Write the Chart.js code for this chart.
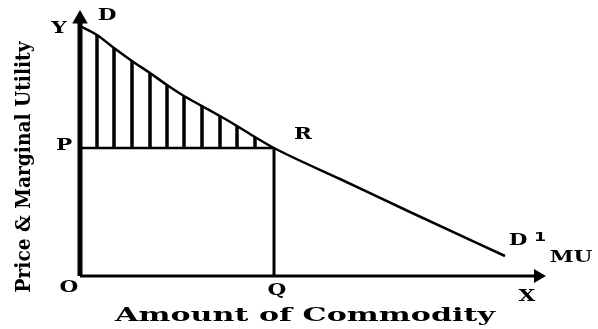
<!DOCTYPE html>
<html>
<head>
<meta charset="utf-8">
<script src="https://cdn.jsdelivr.net/npm/chart.js@4"></script>
<style>
  html, body { margin: 0; padding: 0; background: #fff; }
  #wrap { width: 598px; height: 329px; }
</style>
</head>
<body>
<div id="wrap"><canvas id="chart1"></canvas></div>
<script>
// demand / marginal utility curve D -> D1 (quantity, price)
const curveX = [0, 17, 34, 52, 70, 87, 104, 122, 140, 157, 175, 194, 260, 330, 425];
const curveY = [250, 241, 228, 215, 203, 191, 180, 170, 160, 150, 139, 128, 97, 64, 20];

// market price P and quantity bought Q (point R)
const priceP = 128;
const quantityQ = 194;

// hatched consumer surplus: verticals at these curve samples
const hatchIdx = [1, 2, 3, 4, 5, 6, 7, 8, 9, 10];

const xMax = 462;
const yMax = 261;

const FONT = "'DejaVu Serif', serif";

const curve = curveX.map((x, i) => ({ x, y: curveY[i] }));

const hatch = [];
hatchIdx.forEach(i => {
  hatch.push({ x: curveX[i], y: priceP });
  hatch.push({ x: curveX[i], y: curveY[i] });
  hatch.push({ x: curveX[i], y: null });
});

// labels drawn on top, anchored to data points
const labelsPlugin = {
  id: "labels",
  afterDraw(chart) {
    const { ctx, scales: { x, y } } = chart;
    const px = v => x.getPixelForValue(v);
    const py = v => y.getPixelForValue(v);

    // stretched bold serif text, like the scanned original
    function wide(s, cx, cy, size, w, rot, fam) {
      ctx.save();
      ctx.font = "bold " + size + "px " + (fam || FONT);
      ctx.fillStyle = "#000";
      ctx.textAlign = "center";
      ctx.textBaseline = "middle";
      const m = ctx.measureText(s).width;
      ctx.translate(cx, cy);
      if (rot) ctx.rotate(rot);
      ctx.scale(w ? w / m : 1.35, 1);
      ctx.fillText(s, 0, 0);
      ctx.restore();
    }
    const txt = (s, cx, cy) => wide(s, cx, cy, 16);

    txt("Y", px(0) - 21, py(yMax) + 14);
    txt("D", px(curveX[0]) + 27, py(curveY[0]) - 10);
    txt("P", px(0) - 16, py(priceP) - 2);
    txt("R", px(quantityQ) + 29, py(priceP) - 13);
    txt("O", px(0) - 11, py(0) + 12);
    txt("Q", px(quantityQ) + 3, py(0) + 15);
    txt("X", px(xMax) - 15, py(0) + 21);

    const last = curveX.length - 1;
    txt("D", px(curveX[last]) + 13, py(curveY[last]) - 15);
    wide("1", px(curveX[last]) + 35, py(curveY[last]) - 18, 13, 0, 0, "'DejaVu Sans', sans-serif");
    txt("MU", px(xMax) + 29, py(0) - 18);

    wide("Amount of Commodity", 305, 316, 19, 380);
    wide("Price & Marginal Utility", 25, 167, 21, 251, -Math.PI / 2);
  }
};

new Chart(document.getElementById("chart1"), {
  type: "line",
  data: {
    datasets: [
      {
        // demand curve
        data: curve,
        borderColor: "#000",
        borderWidth: 2.5,
        pointRadius: 0,
        cubicInterpolationMode: "monotone",
      },
      {
        // hatch lines
        data: hatch,
        borderColor: "#000",
        borderWidth: 3.5,
        pointRadius: 0,
        spanGaps: false,
      },
      {
        // P line
        data: [{ x: 0, y: priceP }, { x: quantityQ, y: priceP }],
        borderColor: "#000",
        borderWidth: 2.5,
        pointRadius: 0,
      },
      {
        // Q line
        data: [{ x: quantityQ, y: priceP }, { x: quantityQ, y: 0 }],
        borderColor: "#000",
        borderWidth: 3,
        pointRadius: 0,
      },
      {
        // x axis with arrow
        data: [{ x: 0, y: 0 }, { x: xMax - 4, y: 0 }],
        borderColor: "#000",
        backgroundColor: "#000",
        borderWidth: 3,
        pointStyle: "triangle",
        pointRotation: 90,
        pointRadius: [0, 5],
      },
      {
        // y axis with arrow
        data: [{ x: 0, y: 0 }, { x: 0, y: yMax - 4 }],
        borderColor: "#000",
        backgroundColor: "#000",
        borderWidth: 5,
        pointStyle: "triangle",
        pointRadius: [0, 4],
      },
    ],
  },
  options: {
    responsive: true,
    maintainAspectRatio: false,
    animation: false,
    layout: {
      padding: { left: 80, right: 598 - 542, top: 15, bottom: 329 - 276 },
    },
    scales: {
      x: { type: "linear", min: 0, max: xMax, display: false },
      y: { type: "linear", min: 0, max: yMax, display: false },
    },
    datasets: { line: { clip: false } },
    plugins: {
      legend: { display: false },
      tooltip: { enabled: false },
    },
    elements: { line: { tension: 0 } },
  },
  plugins: [labelsPlugin],
});
</script>
</body>
</html>
